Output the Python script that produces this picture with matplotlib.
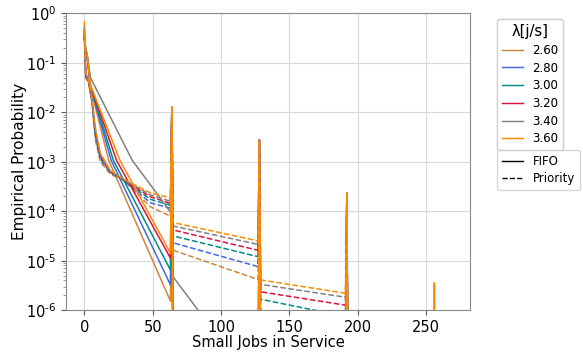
import numpy as np
import matplotlib
matplotlib.use("Agg")
import matplotlib.pyplot as plt
from matplotlib.lines import Line2D
from matplotlib.ticker import FuncFormatter

# arrival rates and colours
lam = ["2.60", "2.80", "3.00", "3.20", "3.40", "3.60"]
colors = ["peru", "royalblue", "darkcyan", "crimson", "grey", "darkorange"]

# values are log10 of the empirical probability
# FIFO (solid)
fifo_x0 = [0, 1, 2, 4.5]
fifo_head = [
    [-0.50, -0.74, -0.86, -1.50],
    [-0.50, -0.75, -0.86, -1.48],
    [-0.50, -0.76, -0.85, -1.46],
    [-0.48, -0.77, -0.84, -1.45],
    [-0.45, -0.70, -0.80, -1.30],
    [-0.35, -0.76, -0.84, -1.45],
]
fifo_mid_x = [17.8, 19.6, 21.2, 23.5, 35.0, 26.0]
fifo_mid = -2.97
fifo_end = [-5.82, -5.49, -5.19, -4.95, -4.02, -4.85]   # at n = 63

# grey FIFO keeps going after 64
grey_tail_x = [65, 84, 90]
grey_tail = [-5.33, -6.03, -6.3]

# spikes at multiples of 64
spike_x = [64, 128, 192, 256]
spike_top = [-1.90, -2.56, -3.64, -5.45]

# Priority (dashed)
prio_x = [0, 1, 3, 5.6, 8, 11.7, 19, 28.8, 48.3, 63]
prio_head = [
    [-0.45, -1.30, -1.40, -1.80, -2.55, -3.00, -3.25, -3.38, -3.91, -4.10],
    [-0.40, -1.28, -1.38, -1.78, -2.48, -2.95, -3.22, -3.37, -3.83, -3.94],
    [-0.35, -1.26, -1.36, -1.76, -2.42, -2.92, -3.21, -3.37, -3.76, -3.88],
    [-0.30, -1.24, -1.35, -1.75, -2.38, -2.88, -3.20, -3.36, -3.71, -3.84],
    [-0.25, -1.22, -1.34, -1.73, -2.34, -2.85, -3.19, -3.36, -3.67, -3.80],
    [-0.16, -1.20, -1.33, -1.72, -2.30, -2.82, -3.18, -3.35, -3.63, -3.73],
]
seg_x = [65, 127, 129, 191]
prio_seg = [
    [-4.79, -5.38, -6.40, -6.70],
    [-4.64, -5.12, -6.01, -6.35],
    [-4.50, -4.92, -5.78, -6.13],
    [-4.38, -4.79, -5.63, -5.90],
    [-4.30, -4.67, -5.48, -5.74],
    [-4.23, -4.60, -5.39, -5.66],
]

low = -9.0   # below the axis
x_last = 269

fig = plt.figure(figsize=(5.83, 3.52), dpi=100)
ax = fig.add_axes([0.113, 0.119, 0.693, 0.843])

for i in range(len(lam)):
    # ---- FIFO ----
    xs = fifo_x0 + [fifo_mid_x[i]]
    ys = fifo_head[i] + [fifo_mid]
    if lam[i] == "3.40":
        xs += [53]
        ys += [-3.64]
    xs += [63, 64]
    ys += [fifo_end[i], spike_top[0]]
    if lam[i] == "3.40":
        xs += grey_tail_x
        ys += grey_tail
    else:
        xs += [65]
        ys += [low]
    for k, sx in enumerate(spike_x[1:], start=1):
        top = spike_top[k]
        if sx == 256 and lam[i] != "3.60":
            top = low
        xs += [sx - 1, sx, sx + 1]
        ys += [low, top, low]
    xs += [x_last]
    ys += [low]
    ax.plot(xs, np.power(10.0, ys), color=colors[i], lw=1.1, ls="-")

    # ---- Priority ----
    xs = list(prio_x) + [64, seg_x[0], seg_x[1], 128, seg_x[2], seg_x[3], 192, 193]
    ys = list(prio_head[i]) + [spike_top[0], prio_seg[i][0], prio_seg[i][1],
                               spike_top[1], prio_seg[i][2], prio_seg[i][3],
                               spike_top[2], low]
    top = spike_top[3] if lam[i] == "3.60" else low
    xs += [255, 256, 257, x_last]
    ys += [low, top, low, low]
    ax.plot(xs, np.power(10.0, ys), color=colors[i], lw=1.1, ls="--")


def dec_label(v, pos):
    n = int(round(np.log10(v)))
    s = str(n).replace("-", "\u2010")
    return "$\\mathdefault{10^{" + s + "}}$"


ax.set_yscale("log")
ax.set_ylim(1e-6, 1)
ax.yaxis.set_major_formatter(FuncFormatter(dec_label))
ax.set_xlim(-13.5, 282)
ax.set_xticks([0, 50, 100, 150, 200, 250])
ax.grid(True, color="#d9d9d9", lw=0.8)
ax.set_axisbelow(True)
for s in ax.spines.values():
    s.set_color("#888888")
ax.tick_params(colors="#555555", labelcolor="black", labelsize=10.5)
ax.tick_params(which="minor", colors="#888888")
ax.set_xlabel("Small Jobs in Service", fontsize=10.5, labelpad=0)
ax.set_ylabel("Empirical Probability", fontsize=11)
ax.yaxis.set_label_coords(-0.097, 0.5)

h1 = [Line2D([], [], color=c, lw=1.0) for c in colors]
leg1 = fig.legend(h1, lam, title="λ[j/s]", loc="upper left",
                  bbox_to_anchor=(0.8525, 0.945), borderaxespad=0,
                  fontsize=8.5, title_fontsize=10.5, handlelength=1.8,
                  labelspacing=0.4)
h2 = [Line2D([], [], color="black", lw=1.0, ls="-"),
      Line2D([], [], color="black", lw=1.0, ls="--")]
leg2 = fig.legend(h2, ["FIFO", "Priority"], loc="upper left",
                  bbox_to_anchor=(0.8525, 0.574), borderaxespad=0,
                  fontsize=8.5, handlelength=1.8, labelspacing=0.4)
fig.add_artist(leg1)

fig.savefig("out.png", dpi=100)
